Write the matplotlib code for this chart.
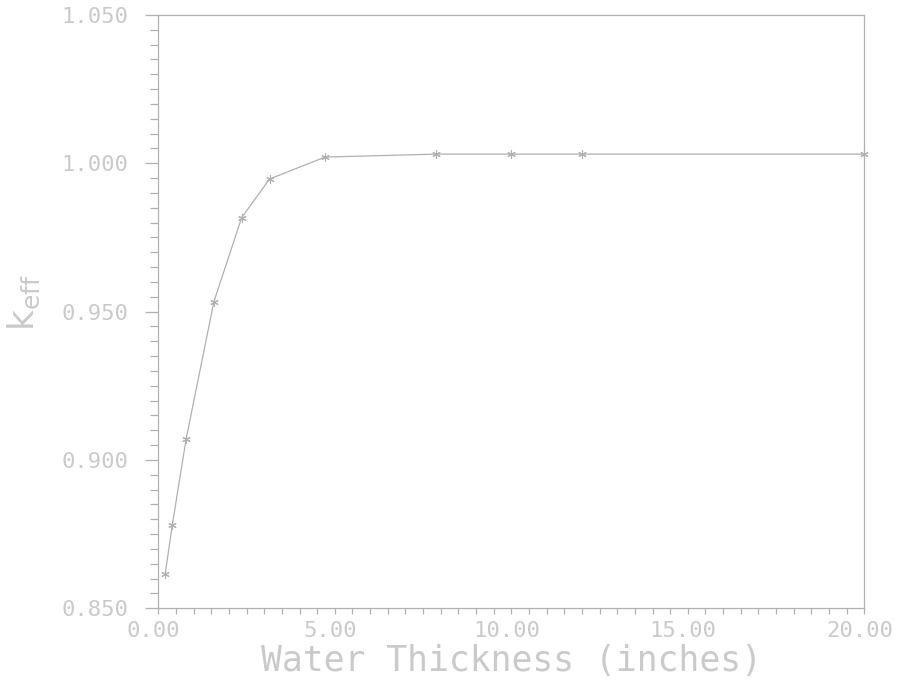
import numpy as np
import matplotlib
matplotlib.use("Agg")
import matplotlib.pyplot as plt
import matplotlib.transforms as mtransforms
from matplotlib.ticker import MultipleLocator, FormatStrFormatter

# water reflector thickness (inches) and k-effective
thickness = [0.197, 0.394, 0.787, 1.575, 2.362, 3.150, 4.724, 7.874, 10.0, 12.0, 20.0]
keff = [0.8617, 0.8779, 0.9070, 0.9534, 0.9817, 0.9947, 1.0021, 1.0031, 1.0031, 1.0031, 1.0031]

line_col = "#b0b0b0"
text_col = "#cacaca"
mono = "DejaVu Sans Mono"

fig = plt.figure(figsize=(8.98, 6.82), dpi=100)
ax = fig.add_axes([0.1763, 0.1082, 0.7862, 0.8698])

ax.plot(thickness, keff, color=line_col, lw=0.9, marker=(6, 2, 0), ms=6, mew=0.8,
        mec=line_col, zorder=3, clip_on=False)

ax.set_xlim(0, 20)
ax.set_ylim(0.85, 1.05)

ax.xaxis.set_major_locator(MultipleLocator(5))
ax.xaxis.set_minor_locator(MultipleLocator(0.5))
ax.yaxis.set_major_locator(MultipleLocator(0.05))
ax.yaxis.set_minor_locator(MultipleLocator(0.005))
ax.xaxis.set_major_formatter(FormatStrFormatter("%.2f"))
ax.yaxis.set_major_formatter(FormatStrFormatter("%.3f"))

for s in ax.spines.values():
    s.set_color(line_col)
    s.set_linewidth(0.9)

ax.tick_params(axis="x", which="both", direction="out", length=4.5, width=0.9,
               color=line_col, labelcolor=text_col, labelsize=16, pad=5,
               top=False)
ax.tick_params(axis="y", which="major", direction="out", length=9.5, width=0.9,
               color=line_col, labelcolor=text_col, labelsize=16, pad=12,
               right=False)
ax.tick_params(axis="y", which="minor", direction="out", length=6, width=0.9,
               color=line_col, right=False)

# x tick labels sit a little left of their ticks in the original
shift = mtransforms.ScaledTranslation(-5 / 100, 0, fig.dpi_scale_trans)
for lab in ax.get_xticklabels():
    lab.set_fontfamily(mono)
    lab.set_transform(lab.get_transform() + shift)
for lab in ax.get_yticklabels():
    lab.set_fontfamily(mono)

ax.set_xlabel("Water Thickness (inches)", fontsize=25, color=text_col,
              labelpad=2, family=mono)
ax.set_ylabel(r"$\mathregular{k_{eff}}$", fontsize=26, color=text_col, labelpad=12)
ax.yaxis.set_label_coords(-0.165, 0.515)

fig.savefig("out.png", dpi=100, facecolor="white")
